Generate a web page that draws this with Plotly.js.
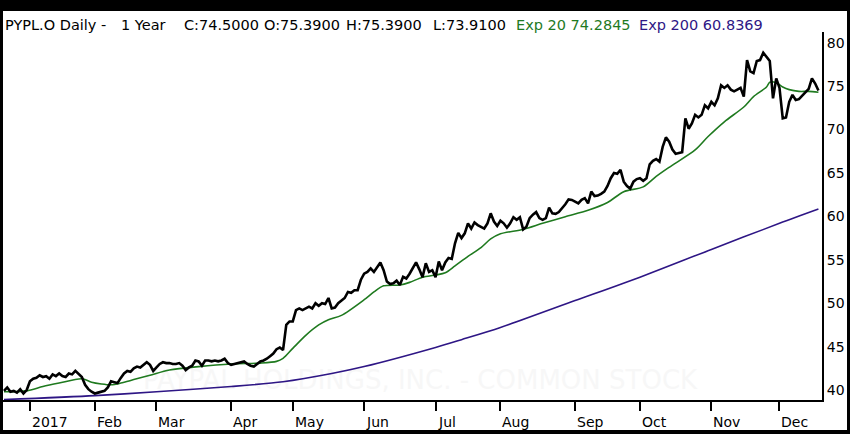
<!DOCTYPE html>
<html>
<head>
<meta charset="utf-8">
<script src="https://cdn.plot.ly/plotly-3.0.1.min.js"></script>
<style>
  html, body { margin: 0; padding: 0; background: #000; width: 850px; height: 434px; overflow: hidden; }
  #chart { position: absolute; left: 3px; top: 11px; width: 844px; height: 419px; background: #fff; }
</style>
</head>
<body>
<div id="chart"></div>
<script>
// ---- Data (x = trading-day index) ----
const closes = [
  39.9, 40.3, 39.8, 39.9, 39.7, 40.1, 39.6, 40.0, 41.0, 41.3,
  41.4, 41.7, 41.5, 41.6, 41.3, 41.8, 41.6, 41.9, 41.6, 41.5,
  41.9, 41.8, 42.2, 41.9, 41.5, 40.6, 40.1, 39.8, 39.6, 39.7,
  39.8, 39.9, 40.3, 41.0, 40.9, 40.8, 41.4, 41.9, 42.2, 42.1,
  42.5, 42.7, 42.6, 42.9, 43.2, 42.9, 42.2, 42.6, 43.0, 43.2,
  43.1, 43.1, 43.0, 43.0, 43.1, 42.8, 42.3, 42.6, 42.8, 43.4,
  43.3, 42.8, 43.4, 43.4, 43.3, 43.4, 43.3, 43.4, 43.6, 43.1,
  42.9, 43.0, 43.1, 43.2, 43.3, 43.0, 42.8, 42.7, 43.0, 43.3,
  43.4, 43.6, 43.9, 44.2, 44.7, 44.9, 44.6, 47.5, 47.9, 47.9,
  49.2, 49.4, 49.2, 49.4, 49.6, 49.4, 50.0, 49.7, 50.0, 49.9,
  50.6, 49.4, 49.5, 50.0, 50.3, 50.6, 51.3, 51.2, 51.5, 51.5,
  52.7, 53.4, 53.6, 54.0, 53.6, 54.2, 54.7, 53.8, 52.5, 52.2,
  52.3, 52.6, 52.1, 53.05, 52.85, 53.4, 54.0, 54.7, 53.9, 53.0,
  54.6, 53.6, 53.8, 53.0, 54.8, 53.8, 54.7, 55.2, 55.1, 56.9,
  58.1, 57.5, 58.05, 59.2, 58.6, 59.3, 59.0, 58.8, 58.6, 59.2,
  60.35, 59.4, 58.9, 59.5, 59.2, 58.7, 59.2, 59.9, 59.6, 59.9,
  58.5, 58.8, 59.8, 60.2, 60.5, 59.8, 59.6, 59.8, 61.0, 60.35,
  60.3, 60.5, 60.9, 61.4, 61.96, 61.9, 61.7, 61.5, 61.9, 62.1,
  61.5, 62.85, 62.35, 62.4, 62.6, 62.85, 63.5, 64.4, 65.0, 64.9,
  65.35, 64.0, 63.5, 63.2, 64.0, 64.3, 64.4, 64.1, 64.4, 66.0,
  66.4, 66.6, 66.3, 68.0, 69.1, 68.6, 67.7, 67.2, 67.3, 67.4,
  71.3, 70.1, 70.7, 71.7, 71.4, 71.7, 72.8, 72.45, 73.2, 72.8,
  73.6, 75.1, 74.8, 75.1, 74.6, 74.4, 74.6, 74.8, 73.8, 78.0,
  76.7, 76.5, 77.9, 78.0, 78.85, 78.4, 77.9, 73.6, 75.9, 74.8,
  71.3, 71.4, 73.2, 74.0, 73.4, 73.5, 73.9, 74.2, 74.7, 75.9,
  75.3, 74.5
];

const ema20Idx = [0, 7, 12, 17, 24, 27, 30, 33, 36, 40, 45, 51, 60, 70, 79, 84, 86, 89, 93, 97,
  100, 104, 111, 114, 117, 122, 125, 129, 133, 136, 139, 143, 147, 150, 153, 160, 166, 173, 180, 186,
  191, 197, 201, 205, 213, 217, 222, 228, 231, 235, 236, 238, 240, 242, 245, 248, 251];
const ema20Val = [39.8, 39.9, 40.4, 40.8, 41.3, 40.9, 40.7, 40.6, 40.8, 41.2, 41.7, 42.3, 42.7, 43.0, 43.1, 43.3, 43.65, 44.8, 46.3, 47.5,
  48.1, 48.6, 50.4, 51.3, 52.0, 52.1, 52.4, 53.0, 53.25, 53.5, 54.3, 55.4, 56.4, 57.4, 58.0, 58.5, 59.2, 59.97, 60.7, 61.6,
  62.85, 63.4, 64.6, 65.65, 67.65, 69.2, 70.9, 72.6, 73.8, 74.9, 75.45, 75.4, 74.9, 74.6, 74.4, 74.4, 74.3];

const ema200Idx = [0, 28, 47, 70, 86, 101, 111, 133, 141, 153, 176, 196, 218, 239, 251];
const ema200Val = [38.9, 39.35, 39.8, 40.4, 40.95, 41.9, 42.7, 44.9, 45.8, 47.2, 50.3, 53.0, 56.2, 59.2, 60.84];

const monthTickIdx = [8, 28, 47, 70, 89, 111, 133, 153, 176, 196, 218, 239];
const monthLabels = ['2017', 'Feb', 'Mar', 'Apr', 'May', 'Jun', 'Jul', 'Aug', 'Sep', 'Oct', 'Nov', 'Dec'];
const priceTicks = [40, 45, 50, 55, 60, 65, 70, 75, 80];

const headerTexts = ['PYPL.O Daily -', '1 Year', 'C:74.5000', 'O:75.3900', 'H:75.3900', 'L:73.9100', 'Exp 20 74.2845', 'Exp 200 60.8369'];
const watermarkText = 'PAYPAL HOLDINGS, INC. - COMMON STOCK';

// ---- Styling / layout ----
const FONT = '"DejaVu Sans", Verdana, sans-serif';
const GREEN = '#1f7a1f';
const PURPLE = '#2e1685';
const W = 844, H = 419;
const M = { l: 0, r: 25, t: 21, b: 30 };
const plotW = W - M.l - M.r, plotH = H - M.t - M.b;
// page pixel -> paper coords (chart div starts at page (3,11))
const px = x => (x - 3 - M.l) / plotW;
const py = y => 1 - (y - 11 - M.t) / plotH;

const headerX = [4, 120, 183, 263, 345, 432, 515, 638];
const headerColors = ['#000', '#000', '#000', '#000', '#000', '#000', GREEN, PURPLE];
const annotations = headerTexts.map((t, k) => ({
  text: t, xref: 'paper', yref: 'paper', x: px(headerX[k]), y: py(24.5),
  xanchor: 'left', yanchor: 'middle', showarrow: false, borderpad: 0,
  font: { family: FONT, size: 14.5, color: headerColors[k] }
}));
// month labels: left-aligned just right of each tick mark
monthLabels.forEach((lab, k) => annotations.push({
  text: lab, xref: 'x', yref: 'paper', x: monthTickIdx[k], y: py(421.5),
  xanchor: 'left', yanchor: 'middle', xshift: 1, showarrow: false, borderpad: 0,
  font: { family: FONT, size: 14, color: '#000' }
}));

const idx = closes.map((_, i) => i);

const traces = [
  { x: ema200Idx, y: ema200Val, type: 'scatter', mode: 'lines',
    line: { color: PURPLE, width: 1.6, shape: 'spline', smoothing: 0.8 }, hoverinfo: 'skip' },
  { x: ema20Idx, y: ema20Val, type: 'scatter', mode: 'lines',
    line: { color: GREEN, width: 1.6, shape: 'spline', smoothing: 0.8 }, hoverinfo: 'skip' },
  { x: idx, y: closes, type: 'scatter', mode: 'lines',
    line: { color: '#000', width: 2.6 }, hoverinfo: 'skip' }
];

const layout = {
  width: W, height: H,
  margin: M,
  paper_bgcolor: '#fff', plot_bgcolor: '#fff',
  showlegend: false,
  font: { family: FONT, color: '#000', size: 14 },
  xaxis: {
    range: [-0.3, 252.1], showgrid: false, zeroline: false,
    showline: true, linecolor: '#000', linewidth: 2,
    ticks: 'outside', ticklen: 9, tickwidth: 2, tickcolor: '#000',
    tickmode: 'array', tickvals: monthTickIdx, showticklabels: false,
    fixedrange: true
  },
  yaxis: {
    side: 'right', range: [38.85, 81.24], showgrid: false, zeroline: false,
    showline: true, linecolor: '#000', linewidth: 2, ticks: '',
    tickmode: 'array', tickvals: priceTicks, ticktext: priceTicks.map(String),
    tickfont: { family: FONT, size: 14, color: '#000' }, fixedrange: true
  },
  shapes: [{
    type: 'rect', xref: 'paper', yref: 'paper', layer: 'below',
    x0: px(120), x1: px(720), y0: py(392), y1: py(364),
    line: { width: 0 }, fillcolor: 'rgba(0,0,0,0)',
    label: { text: watermarkText, textposition: 'middle center',
      font: { family: FONT, size: 26, color: '#f7f7f7' } }
  }],
  annotations: annotations
};

Plotly.newPlot('chart', traces, layout, { staticPlot: true, displayModeBar: false });
</script>
</body>
</html>
